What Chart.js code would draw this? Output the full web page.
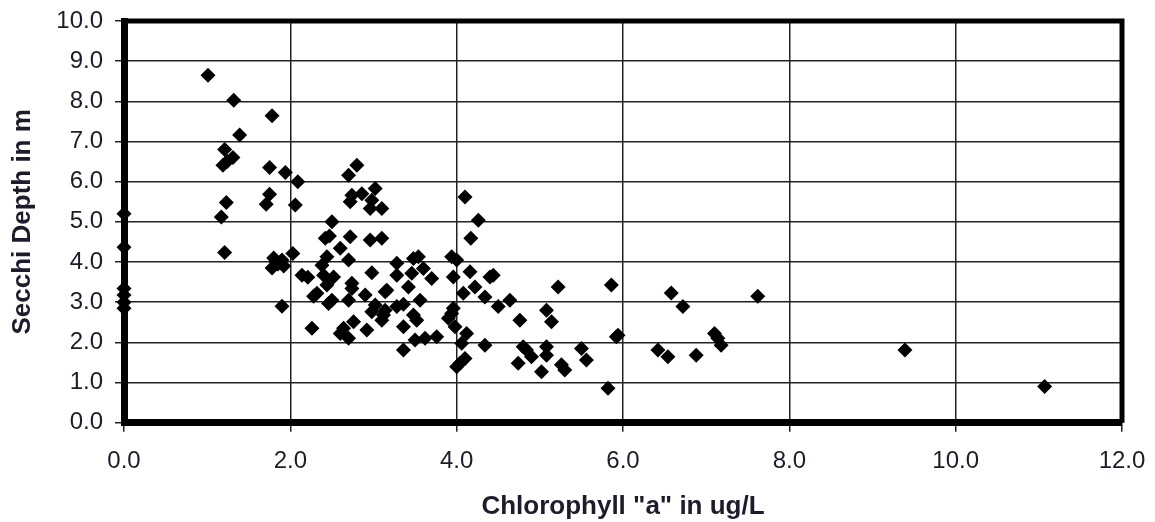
<!DOCTYPE html>
<html lang="en">
<head>
    <meta charset="UTF-8">
    <title>Secchi Depth vs Chlorophyll a</title>
    <script src="https://cdn.jsdelivr.net/npm/chart.js"></script>
    <style>
        body { margin: 0; background: #fff; }
    </style>
</head>
<body>
    <canvas id="scatter" width="1155" height="522"></canvas>
    <script>
        // chlorophyll "a" (ug/L) and matching secchi depth (m)
        const chlorophyll = [
            0, 0, 0, 0, 0, 0,
            1.01, 1.32, 1.78, 1.39, 1.21, 1.31, 1.19, 1.24, 1.75, 1.94, 2.09, 1.23, 1.75, 1.71,
            2.06, 1.17, 1.21, 1.80, 1.85, 1.78, 1.90, 1.92, 1.83, 2.03, 2.14, 2.21, 1.90, 2.26,
            2.80, 2.70, 2.74, 2.86, 2.72, 3.02, 2.98, 2.96, 3.10, 2.50, 2.42, 2.47, 2.72, 2.96,
            3.10, 2.60, 2.44, 2.70, 2.38, 2.40, 2.52, 2.74, 2.98, 2.44, 2.32, 2.50, 2.46, 2.70,
            2.74, 2.90, 3.14, 3.28, 3.28, 3.02, 2.98, 3.14, 3.28, 3.10, 2.76, 2.64, 2.60, 2.70,
            2.92, 3.36, 3.36, 2.28,
            3.94, 4.00, 3.54, 3.48, 3.60, 3.70, 3.46, 4.16, 4.40, 4.44, 3.96, 4.22, 4.08, 4.34,
            4.50, 4.64, 5.22, 5.86, 6.58, 6.72, 7.62, 3.16, 3.42, 3.56, 3.36, 3.12, 3.48, 3.52,
            3.90, 3.96, 3.98, 3.50, 3.62, 3.76, 4.12, 4.06, 4.34, 4.10, 4.00, 4.04, 4.76, 5.08,
            5.14, 4.80, 4.84, 4.90, 4.74, 5.08, 5.08, 5.02, 5.26, 5.30, 5.50, 5.56, 5.82, 5.92,
            5.94, 6.42, 6.54, 6.88, 7.10, 7.18, 7.14, 9.39, 11.07,
            4.10, 4.26, 4.17, 3.94
        ];
        const secchi = [
            5.20, 4.37, 3.34, 3.18, 3.00, 2.85,
            8.65, 8.03, 7.64, 7.16, 6.80, 6.60, 6.41, 6.50, 6.35, 6.23, 6.00, 5.48, 5.69, 5.44,
            5.42, 5.12, 4.24, 4.10, 3.95, 3.85, 4.05, 3.90, 4.00, 4.21, 3.67, 3.62, 2.90, 2.35,
            6.41, 6.16, 5.66, 5.70, 5.50, 5.83, 5.54, 5.33, 5.33, 5.00, 4.59, 4.65, 4.63, 4.55,
            4.59, 4.34, 4.13, 4.05, 3.92, 3.67, 3.63, 3.47, 3.73, 3.43, 3.22, 3.05, 2.97, 3.05,
            3.34, 3.18, 3.26, 3.97, 3.67, 2.93, 2.76, 2.80, 2.89, 2.55, 2.51, 2.35, 2.22, 2.10,
            2.31, 2.39, 1.81, 3.15,
            4.13, 4.05, 4.13, 4.09, 3.84, 3.59, 3.72, 3.76, 3.63, 3.67, 3.63, 3.38, 3.22, 3.13,
            2.89, 3.05, 3.38, 3.43, 3.23, 2.89, 3.15, 3.30, 3.38, 3.05, 2.95, 2.68, 2.68, 2.55,
            2.60, 2.85, 2.39, 2.06, 2.10, 2.14, 2.22, 1.98, 1.93, 1.60, 1.39, 1.48, 2.55, 2.80,
            2.51, 1.89, 1.81, 1.64, 1.48, 1.89, 1.68, 1.27, 1.44, 1.31, 1.85, 1.56, 0.86, 2.14,
            2.18, 1.81, 1.64, 1.68, 2.22, 1.93, 2.10, 1.81, 0.90,
            5.62, 5.04, 4.59, 2.72
        ];
        const xTickMax = 12.0;
        const yTickMax = 10.0;

        const points = chlorophyll.map((x, i) => ({ x: x, y: secchi[i] }));

        // top and right frame lines (left/bottom come from the axis borders)
        const frame = {
            id: 'frame',
            afterDraw(chart) {
                const { ctx, chartArea: a } = chart;
                ctx.save();
                ctx.strokeStyle = '#000';
                ctx.lineWidth = 5;
                ctx.beginPath();
                ctx.moveTo(a.left, a.top);
                ctx.lineTo(a.right, a.top);
                ctx.lineTo(a.right, a.bottom);
                ctx.stroke();
                ctx.restore();
            }
        };

        const tickFont = { family: '"Liberation Sans", Arial, sans-serif', size: 24 };
        const titleFont = { family: '"Liberation Sans", Arial, sans-serif', size: 26, weight: 'bold' };

        const ctx = document.getElementById('scatter').getContext('2d');
        new Chart(ctx, {
            type: 'scatter',
            data: {
                datasets: [{
                    label: 'Secchi Depth',
                    data: points,
                    pointStyle: 'rectRot',
                    pointRadius: 7.5,
                    pointHoverRadius: 7.5,
                    backgroundColor: '#000',
                    borderWidth: 0,
                    clip: false
                }]
            },
            options: {
                responsive: false,
                animation: false,
                layout: { padding: { top: 21, right: 33, left: 0, bottom: 0 } },
                plugins: {
                    legend: { display: false },
                    tooltip: { enabled: false }
                },
                scales: {
                    x: {
                        type: 'linear',
                        min: 0,
                        max: xTickMax,
                        afterFit: s => {
                            s.height = 99.3;
                            s.paddingLeft = 0;
                            s.paddingRight = 0;
                        },
                        ticks: {
                            stepSize: 2,
                            color: '#1c1c2c',
                            font: tickFont,
                            padding: 15,
                            callback: v => v.toFixed(1)
                        },
                        grid: { color: '#222', lineWidth: 1.5, tickLength: 9 },
                        border: { color: '#000', width: 7 },
                        title: {
                            display: true,
                            text: 'Chlorophyll "a" in ug/L',
                            color: '#1c1c2c',
                            font: titleFont,
                            padding: { top: 0, bottom: 0 }
                        }
                    },
                    y: {
                        type: 'linear',
                        min: 0,
                        max: yTickMax,
                        afterFit: s => {
                            s.width = 124;
                            s.paddingTop = 0;
                            s.paddingBottom = 0;
                        },
                        ticks: {
                            stepSize: 1,
                            color: '#1c1c2c',
                            font: tickFont,
                            padding: 12,
                            callback: v => v.toFixed(1)
                        },
                        grid: { color: '#222', lineWidth: 1.5, tickLength: 9 },
                        border: { color: '#000', width: 7 },
                        title: {
                            display: true,
                            text: 'Secchi Depth in m',
                            color: '#1c1c2c',
                            font: titleFont,
                            padding: { top: 7, bottom: 0 }
                        }
                    }
                }
            },
            plugins: [frame]
        });
    </script>
</body>
</html>
